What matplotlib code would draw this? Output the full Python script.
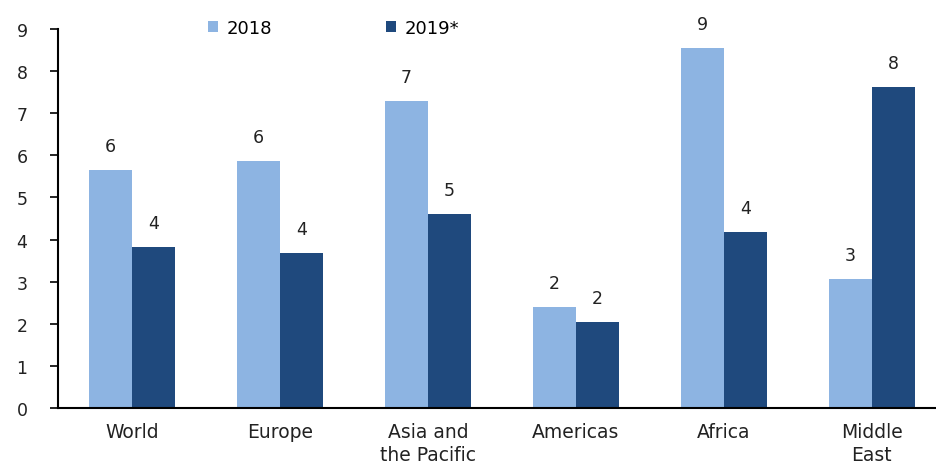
import numpy as np
import matplotlib.pyplot as plt

plt.rcParams['font.family'] = ['DejaVu Sans']

regions = ['World', 'Europe', 'Asia and\nthe Pacific', 'Americas', 'Africa', 'Middle\nEast']
vals_2018 = [5.65, 5.87, 7.29, 2.40, 8.55, 3.06]
vals_2019 = [3.82, 3.68, 4.60, 2.04, 4.18, 7.62]

c_light = '#8db4e2'
c_dark = '#1f497d'
txt = '#222222'

fig = plt.figure(figsize=(9.37, 4.64), dpi=100)
ax = fig.add_axes([0.062, 0.1185, 0.938, 0.8168])

x = np.arange(len(regions))
w = 0.29
b1 = ax.bar(x - w / 2, vals_2018, w, color=c_light, label='2018')
b2 = ax.bar(x + w / 2, vals_2019, w, color=c_dark, label='2019*')

# rounded value above each bar
for bars, vals in ((b1, vals_2018), (b2, vals_2019)):
    for r, v in zip(bars, vals):
        ax.annotate('{:.0f}'.format(v), (r.get_x() + r.get_width() / 2, v),
                    xytext=(0, 11), textcoords='offset points',
                    ha='center', va='bottom', fontsize=12.5, color=txt)

ax.set_ylim(0, 9)
ax.set_xlim(-0.5, 5.44)
ax.set_yticks(range(10))
ax.set_xticks(x)
ax.set_xticklabels(regions, fontsize=13.5, color=txt, linespacing=1.3)
ax.tick_params(axis='y', labelsize=12.5, labelcolor=txt, length=6, width=1.2, pad=16)
ax.tick_params(axis='x', length=0, pad=10)

for s in ['top', 'right']:
    ax.spines[s].set_visible(False)
ax.spines['left'].set_linewidth(1.5)
ax.spines['bottom'].set_linewidth(1.5)

ax.legend(loc='upper left', bbox_to_anchor=(0.152, 1.07), ncol=2, frameon=False,
          fontsize=13, handlelength=0.55, handleheight=0.55, columnspacing=6.3,
          handletextpad=0.5)

fig.savefig('out.png', dpi=100)
